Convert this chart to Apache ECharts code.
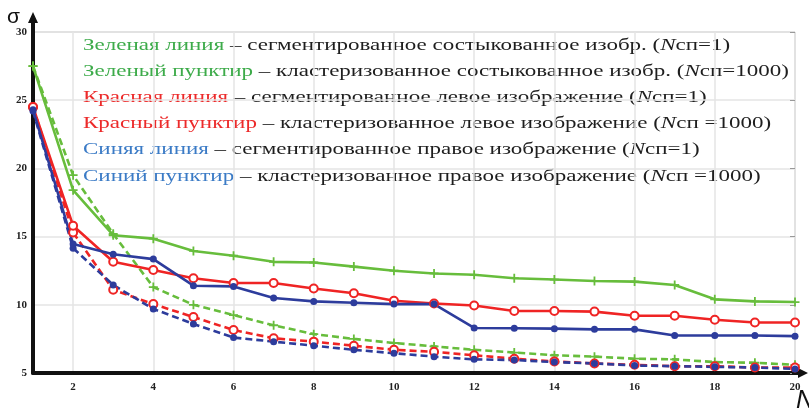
<!DOCTYPE html>
<html><head><meta charset="utf-8">
<script src="https://cdn.jsdelivr.net/npm/echarts@6/dist/echarts.min.js"></script>
<style>html,body{margin:0;padding:0;background:#fff}#c{width:809px;height:411px}</style>
</head><body><div id="c"></div>
<script>
// ---- data ----
const nValues = [1,2,3,4,5,6,7,8,9,10,11,12,13,14,15,16,17,18,19,20];
const yTicks = [5,10,15,20,25,30];
const greenSolid = [27.5,18.4,15.1,14.85,13.95,13.6,13.15,13.1,12.8,12.5,12.3,12.2,11.95,11.85,11.75,11.7,11.45,10.4,10.25,10.2];
const greenDash  = [27.5,19.5,15.2,11.3,10.0,9.25,8.5,7.85,7.5,7.2,6.95,6.7,6.5,6.3,6.2,6.05,6.0,5.8,5.75,5.6];
const redSolid   = [24.5,15.8,13.15,12.55,11.95,11.6,11.6,11.2,10.85,10.3,10.1,9.95,9.55,9.55,9.5,9.2,9.2,8.9,8.7,8.7];
const redDash    = [24.5,15.3,11.1,10.05,9.1,8.15,7.55,7.3,7.0,6.7,6.55,6.3,6.05,5.85,5.7,5.6,5.5,5.5,5.4,5.4];
const blueSolid  = [24.3,14.45,13.7,13.35,11.4,11.35,10.5,10.25,10.15,10.05,10.05,8.3,8.28,8.25,8.2,8.2,7.75,7.75,7.75,7.7];
const blueDash   = [24.2,14.15,11.45,9.7,8.6,7.6,7.3,7.0,6.7,6.45,6.2,6.0,5.95,5.8,5.7,5.55,5.5,5.45,5.4,5.3];
const legendLead = ['Зеленая линия','Зеленый пунктир','Красная линия','Красный пунктир','Синяя линия','Синий пунктир'];
const legendRest = [
  ' – сегментированное состыкованное изобр. (',
  ' – кластеризованное состыкованное изобр. (',
  ' – сегментированное левое изображение (',
  ' – кластеризованное левое изображение (',
  ' – сегментированное правое изображение (',
  ' – кластеризованное правое изображение ('
];
const legendTail = ['сп=1)','сп=1000)','сп=1)','сп =1000)','сп=1)','сп =1000)'];

// ---- styles ----
const C = {
  gLine:'#67bd3c', rLine:'#ef2424', bLine:'#2d3c9c',
  gText:'#3dab4a', rText:'#ec2a2a', bText:'#3b7bc6', kText:'#1e1e1e'
};
const textColors = [C.gText,C.gText,C.rText,C.rText,C.bText,C.bText];
const serif = '"Liberation Serif","Times New Roman",serif';
const plus = 'path://M4,0H6V4H10V6H6V10H4V6H0V4H4Z';
const even = (i) => i % 2 === 1;

function mk(name, data, color, dashed, symbol, size, bw) {
  return {
    name, type:'line', data, symbol, symbolSize:size,
    lineStyle:{color, width:2.6, type: dashed ? [7,4] : 'solid'},
    itemStyle:{color, borderWidth: bw || 0},
    emphasis:{disabled:true}, animation:false
  };
}

const yMin = yTicks[0], yMax = yTicks[yTicks.length-1];
const chart = echarts.init(document.getElementById('c'), null, {renderer:'canvas'});
chart.setOption({
  animation:false,
  backgroundColor:'#fff',
  grid:{left:33, right:14, top:32, bottom:38, show:true, borderColor:'#b5b5b5', borderWidth:1},
  xAxis:{
    type:'category', data:nValues, boundaryGap:false,
    axisLine:{lineStyle:{color:'#111', width:4},
      symbol:['none','path://M5,0L10,10L7,10L7,16L3,16L3,10L0,10Z'], symbolSize:[10,16], symbolOffset:[0,5]},
    axisTick:{show:false},
    axisLabel:{interval:even, fontFamily:serif, fontWeight:'bold', fontSize:11, color:'#222', margin:9},
    splitLine:{show:true, interval:even, lineStyle:{color:'#e4e4e4', width:1.5}}
  },
  yAxis:[{
    type:'value', min:yMin, max:yMax, interval:5,
    axisLine:{show:true, lineStyle:{color:'#111', width:4},
      symbol:['none','path://M5,0L10,11L7,11L7,23L3,23L3,11L0,11Z'], symbolSize:[10,23], symbolOffset:[0,8.5]},
    axisTick:{show:false},
    axisLabel:{fontFamily:serif, fontWeight:'bold', fontSize:11, color:'#222', margin:6},
    splitLine:{show:true, lineStyle:{color:'#e4e4e4', width:1.5}}
  },{
    type:'value', position:'right', min:yMin, max:yMax, interval:5,
    axisLine:{show:false},
    axisTick:{show:true, inside:true, length:5, lineStyle:{color:'#999', width:1}},
    axisLabel:{show:false}, splitLine:{show:false}
  }],
  series:[
    mk('greenDash', greenDash, C.gLine, true, plus, 9),
    mk('redDash', redDash, C.rLine, true, 'emptyCircle', 8, 2),
    mk('blueDash', blueDash, C.bLine, true, 'circle', 7),
    mk('greenSolid', greenSolid, C.gLine, false, plus, 9),
    mk('redSolid', redSolid, C.rLine, false, 'emptyCircle', 8, 2),
    mk('blueSolid', blueSolid, C.bLine, false, 'circle', 7)
  ],
  graphic: [
    {type:'text', x:7, y:7, style:{text:'σ', fontFamily:'"Liberation Sans",Arial,sans-serif', fontSize:21, fill:'#111'}},
    {type:'text', x:796, y:388, style:{text:'N', fontFamily:'"Liberation Sans",Arial,sans-serif', fontStyle:'italic', fontSize:26, fill:'#111'}}
  ].concat(legendLead.map((lead, i) => ({
    type:'text', x:83, y:45 + i*26.2, scaleX:1.314,
    style:{
      text:'{c|' + lead + '}{k|' + legendRest[i] + '}{i|N}{k|' + legendTail[i] + '}',
      verticalAlign:'middle',
      rich:{
        c:{fill:textColors[i], fontFamily:serif, fontSize:17.5},
        k:{fill:C.kText, fontFamily:serif, fontSize:17.5},
        i:{fill:C.kText, fontFamily:serif, fontSize:17.5, fontStyle:'italic'}
      }
    }
  })))
});
</script></body></html>
